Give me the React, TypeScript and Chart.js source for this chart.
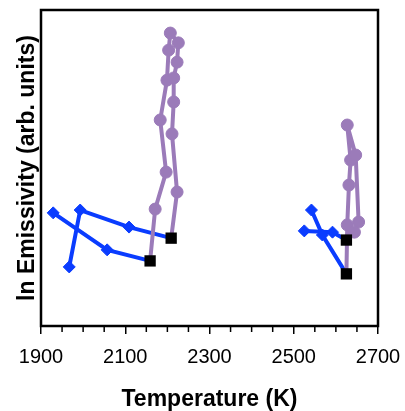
import React, { useEffect, useRef } from 'react';
import { Chart, registerables } from 'chart.js';

Chart.register(...registerables);

// Left cycle (~2200 K)
const purpleLeftT = [2159, 2171, 2197, 2183, 2199, 2203, 2207, 2226, 2223, 2215, 2215, 2211, 2223, 2209];
const purpleLeftLnE = [2.06, 3.7, 4.87, 6.52, 7.78, 8.73, 9.27, 8.96, 8.35, 7.85, 7.09, 6.08, 4.24, 2.78];
const blueLeftAT = [1929, 2057, 2159];
const blueLeftALnE = [3.58, 2.41, 2.06];
const blueLeftBT = [1967, 1993, 2109, 2209];
const blueLeftBLnE = [1.87, 3.67, 3.13, 2.78];

// Right cycle (~2620 K)
const purpleRightT = [2625, 2627, 2631, 2635, 2627, 2647, 2654, 2644, 2625];
const purpleRightLnE = [1.65, 3.2, 4.46, 5.25, 6.36, 5.41, 3.29, 2.97, 2.72];
const blueRightAT = [2542, 2568, 2625];
const blueRightALnE = [3.67, 2.88, 1.65];
const blueRightBT = [2525, 2592, 2625];
const blueRightBLnE = [3.01, 2.97, 2.72];

// Starting points (black squares)
const squareT = [2159, 2209, 2625, 2625];
const squareLnE = [2.06, 2.78, 2.72, 1.65];

// Axis
const xMin = 1900;
const xMax = 2700;
const xMajorStep = 200;
const xMinorTicks = [1950, 2000, 2050, 2150, 2200, 2250, 2350, 2400, 2450, 2550, 2600, 2650];
const yMin = 0;
const yMax = 10;

const BLUE = '#0a3cff';
const PURPLE = '#9b7bb9';
const FONT = "'Liberation Sans', Arial, sans-serif";

const xy = (t: number[], v: number[]) => t.map((x, i) => ({ x, y: v[i] }));
const endRadius = (n: number, r: number, hideFirst: boolean, hideLast: boolean) =>
  Array.from({ length: n }, (_, i) => ((hideFirst && i === 0) || (hideLast && i === n - 1) ? 0 : r));

const framePlugin = {
  id: 'frameAndMinor',
  afterDraw(chart: any) {
    const { ctx, chartArea: a, scales } = chart;
    const xs = scales.x;
    ctx.save();
    ctx.strokeStyle = '#000';
    ctx.lineWidth = 1.5;
    for (const t of xMinorTicks) {
      const px = xs.getPixelForValue(t);
      ctx.beginPath();
      ctx.moveTo(px, a.bottom);
      ctx.lineTo(px, a.bottom + 6);
      ctx.stroke();
    }
    ctx.lineWidth = 2.5;
    ctx.strokeRect(a.left, a.top, a.right - a.left, a.bottom - a.top);
    ctx.restore();
  },
};

export default function App() {
  const ref = useRef<HTMLCanvasElement | null>(null);

  useEffect(() => {
    if (!ref.current) return;
    const lineDs = (label: string, t: number[], v: number[], color: string, style: string, r: number, hf: boolean, hl: boolean) => ({
      label,
      data: xy(t, v),
      showLine: true,
      borderColor: color,
      backgroundColor: color,
      borderWidth: 4,
      pointStyle: style,
      pointRadius: endRadius(t.length, r, hf, hl),
      pointBorderWidth: 1,
      pointBorderColor: color,
      pointBackgroundColor: color,
    });
    const chart = new Chart(ref.current, {
      type: 'scatter',
      data: {
        datasets: [
          {
            label: 'start',
            data: xy(squareT, squareLnE),
            showLine: false,
            pointStyle: 'rect',
            pointRadius: 8,
            pointBorderWidth: 0,
            backgroundColor: '#000',
            borderColor: '#000',
          } as any,
          lineDs('purple left', purpleLeftT, purpleLeftLnE, PURPLE, 'circle', 6, true, true),
          lineDs('purple right', purpleRightT, purpleRightLnE, PURPLE, 'circle', 6, true, true),
          lineDs('blue left A', blueLeftAT, blueLeftALnE, BLUE, 'rectRot', 6, false, true),
          lineDs('blue left B', blueLeftBT, blueLeftBLnE, BLUE, 'rectRot', 6, false, true),
          lineDs('blue right A', blueRightAT, blueRightALnE, BLUE, 'rectRot', 6, false, true),
          lineDs('blue right B', blueRightBT, blueRightBLnE, BLUE, 'rectRot', 6, false, true),
        ],
      },
      options: {
        animation: false,
        responsive: false,
        layout: { padding: { top: 10, right: 27, left: 0, bottom: 0 } },
        plugins: { legend: { display: false }, tooltip: { enabled: false } },
        scales: {
          x: {
            type: 'linear',
            min: xMin,
            max: xMax,
            afterFit: (s: any) => { s.height = 85; s.paddingLeft = 0; s.paddingRight = 0; },
            ticks: {
              stepSize: xMajorStep,
              color: '#000',
              padding: 11,
              font: { family: FONT, size: 20 },
              maxRotation: 0,
              callback: (v: any) => String(v),
            },
            grid: { drawOnChartArea: false, drawTicks: true, tickLength: 8, color: '#000', lineWidth: 1.5 },
            border: { display: false },
            title: {
              display: true,
              text: 'Temperature (K)',
              color: '#000',
              font: { family: FONT, size: 23, weight: 'bold' },
              padding: { top: 0, bottom: -2 },
            },
          },
          y: {
            type: 'linear',
            min: yMin,
            max: yMax,
            afterFit: (s: any) => { s.width = 41; s.paddingTop = 0; s.paddingBottom = 0; },
            ticks: { display: false },
            grid: { display: false, drawTicks: false },
            border: { display: false },
            title: {
              display: true,
              text: 'ln Emissivity (arb. units)',
              color: '#000',
              font: { family: FONT, size: 23, weight: 'bold' },
              padding: { top: 14, bottom: 0 },
            },
          },
        },
      } as any,
      plugins: [framePlugin],
    });
    return () => chart.destroy();
  }, []);

  return (
    <div style={{ position: 'fixed', left: 0, top: 0, width: 405, height: 411, background: '#fff' }}>
      <canvas ref={ref} width={405} height={411} />
    </div>
  );
}
